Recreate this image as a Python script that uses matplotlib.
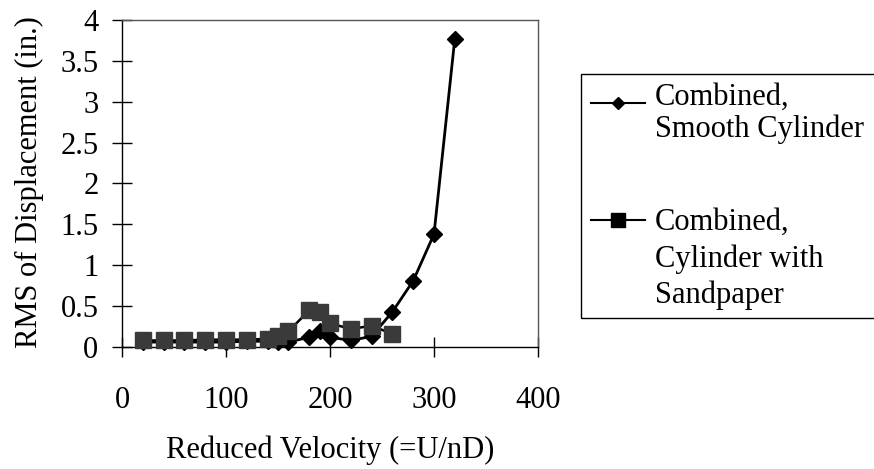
import matplotlib
matplotlib.use('Agg')
import matplotlib.pyplot as plt
from matplotlib.lines import Line2D
from matplotlib.patches import Rectangle
from matplotlib.ticker import FormatStrFormatter

plt.rcParams['font.family'] = ['Liberation Serif', 'DejaVu Serif']

# data
x_smooth = [20, 40, 60, 80, 100, 120, 140, 150, 160, 180, 190, 200, 220, 240, 260, 280, 300, 320]
y_smooth = [0.06, 0.06, 0.06, 0.06, 0.06, 0.07, 0.07, 0.06, 0.06, 0.12, 0.20, 0.12, 0.08, 0.13, 0.43, 0.81, 1.38, 3.77]

x_sand = [20, 40, 60, 80, 100, 120, 140, 150, 160, 180, 190, 200, 220, 240, 260]
y_sand = [0.08, 0.08, 0.08, 0.09, 0.09, 0.09, 0.10, 0.13, 0.19, 0.45, 0.43, 0.29, 0.22, 0.26, 0.16]

x_ticks = [0, 100, 200, 300, 400]
y_ticks = [0, 0.5, 1, 1.5, 2, 2.5, 3, 3.5, 4]

label_smooth = ['Combined,', 'Smooth Cylinder']
label_sand = ['Combined,', 'Cylinder with', 'Sandpaper']

W, H = 874, 469
fig = plt.figure(figsize=(W / 100, H / 100), dpi=100)


def fx(px):
    return px / W


def fy(py):
    return 1 - py / H


ax = fig.add_axes([fx(122), fy(347), fx(538) - fx(122), fy(20) - fy(347)])

ax.plot(x_smooth, y_smooth, color='black', lw=2, marker='D', ms=8.5,
        mfc='black', mec='black', zorder=2, clip_on=False)
ax.plot(x_sand, y_sand, color='black', lw=1.8, marker='s', ms=11,
        mfc='#3a3a3a', mec='#3a3a3a', zorder=3, clip_on=False)

ax.set_xlim(0, 400)
ax.set_ylim(0, 4)
ax.set_xticks(x_ticks)
ax.set_yticks(y_ticks)
ax.yaxis.set_major_formatter(FormatStrFormatter('%g'))
ax.tick_params(axis='both', direction='inout', length=14, width=1, labelsize=22)
ax.tick_params(axis='x', pad=21)
ax.tick_params(axis='y', pad=10)

for s in ['left', 'bottom']:
    ax.spines[s].set_color('black')
    ax.spines[s].set_linewidth(1)
for s in ['top', 'right']:
    ax.spines[s].set_color('#555555')
    ax.spines[s].set_linewidth(1)

ax.set_xlabel('Reduced Velocity (=U/nD)', fontsize=22)
ax.xaxis.label.set_va('baseline')
ax.xaxis.set_label_coords(0.5, (347 - 458) / 327)
ax.set_ylabel('RMS of Displacement (in.)', fontsize=22)
ax.yaxis.label.set_va('center')
ax.yaxis.set_label_coords((29 - 122) / 416, 0.505)

# legend box, Excel style: marker lined up with the first text line
fig.add_artist(Rectangle((fx(581), fy(318)), fx(890) - fx(581), fy(74) - fy(318),
                         transform=fig.transFigure, fill=False, edgecolor='black',
                         lw=1, clip_on=False))
fig.add_artist(Line2D([fx(591), fx(645)], [fy(103), fy(103)], transform=fig.transFigure,
                      color='black', lw=1.5))
fig.add_artist(Line2D([fx(618)], [fy(103)], transform=fig.transFigure,
                      color='black', marker='D', ms=6.5, lw=0))
fig.add_artist(Line2D([fx(591), fx(645)], [fy(220), fy(220)], transform=fig.transFigure,
                      color='black', lw=1.5))
fig.add_artist(Line2D([fx(618)], [fy(220)], transform=fig.transFigure,
                      color='black', marker='s', ms=9.5, lw=0))

for txt, base in zip(label_smooth, [105, 137]):
    fig.text(fx(655), fy(base), txt, fontsize=22, va='baseline', ha='left')
for txt, base in zip(label_sand, [230, 267, 303]):
    fig.text(fx(655), fy(base), txt, fontsize=22, va='baseline', ha='left')

fig.savefig('out.png', dpi=100)
